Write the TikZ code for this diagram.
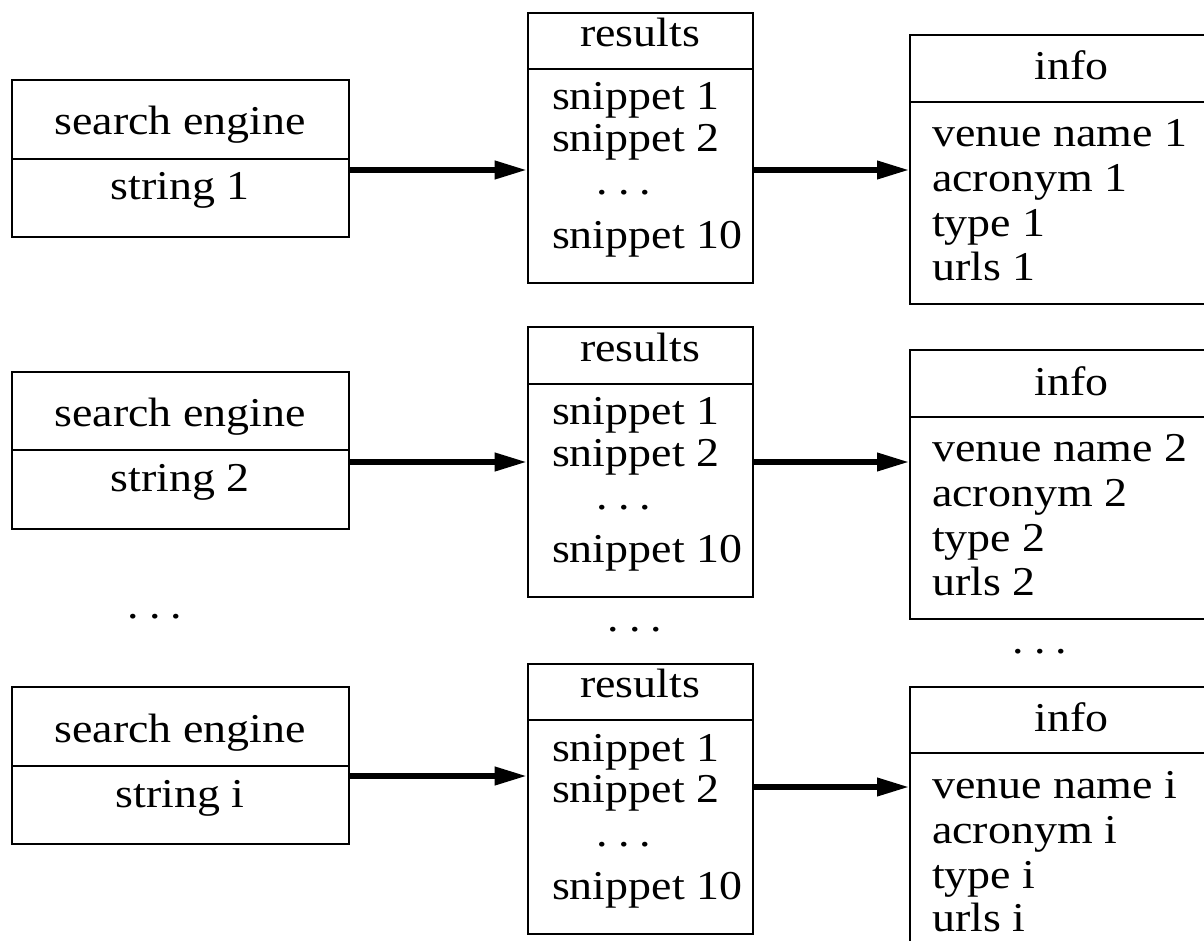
\documentclass[tikz,border=0pt]{standalone}
\usepackage{fontspec}
\setmainfont[FakeStretch=1.12]{Liberation Serif}
\usetikzlibrary{arrows.meta}
% widely spaced ellipsis
\newcommand\wdots{.\kern0.25em.\kern0.25em.}

\begin{document}
\begin{tikzpicture}[x=0.5pt,y=-0.5pt,
  box/.style={draw, line width=1pt, inner sep=0pt, outer sep=0pt, anchor=north west},
  rule/.style={line width=1pt},
  flow/.style={line width=3.3pt, -{Triangle[length=16.5pt,width=8.5pt]}},
  lbl/.style={inner sep=0pt, anchor=base, font=\fontsize{20.5}{20.5}\selectfont},
  item/.style={lbl, anchor=base west}]

\fill[white] (0,0) rectangle (1204,941);
\clip (0,0) rectangle (1204,941);

% one row per query: search engine -> results -> info
% \n: row, \s/\r/\i: vertical offsets of the three boxes, \ya/\yb: arrow heights
\foreach \n/\s/\r/\i/\ya/\yb/\lab in
  {1/0/0/0/170/170/1,
   2/291.7/314.3/315/462/462/2,
   3/607/651/651.7/776/787/i} {
  % search engine box
  \node[box, minimum width=337.5*0.5pt, minimum height=157.3*0.5pt]
    (se\n) at (11.5,{80+\s}) {};
  \draw[rule] (se\n.west |- 0,{158.7+\s}) -- (se\n.east |- 0,{158.7+\s});
  \node[lbl] (set\n) at (180.2,{135+\s}) {search engine};
  \node[lbl] (ses\n) at (180.2,{200+\s}) {string \lab};

  % results box
  \node[box, minimum width=224.8*0.5pt, minimum height=270*0.5pt]
    (res\n) at (527.7,{12.7+\r}) {};
  \draw[rule] (res\n.west |- 0,{69.3+\r}) -- (res\n.east |- 0,{69.3+\r});
  \node[lbl] (rest\n) at (640,{46.7+\r}) {results};
  \node[item] (resa\n) at (551.7,{110+\r}) {snippet 1};
  \node[item] (resb\n) at (551.7,{151.7+\r}) {snippet 2};
  \node[item] (resc\n) at (596,{195+\r}) {\wdots};
  \node[item] (resd\n) at (551.7,{248.3+\r}) {snippet 10};

  % info box
  \node[box, minimum width=320*0.5pt, minimum height=269*0.5pt]
    (info\n) at (910,{35+\i}) {};
  \draw[rule] (info\n.west |- 0,{101.7+\i}) -- (info\n.east |- 0,{101.7+\i});
  \node[lbl] (infot\n) at (1071.7,{80+\i}) {info};
  \node[item] (infoa\n) at (931.7,{146.7+\i}) {venue name \lab};
  \node[item] (infob\n) at (931.7,{191.7+\i}) {acronym \lab};
  \node[item] (infoc\n) at (931.7,{236.7+\i}) {type \lab};
  \node[item] (infod\n) at (931.7,{280+\i}) {urls \lab};

  % connectors
  \draw[flow] (se\n.east |- 0,\ya) -- (res\n.west |- 0,\ya);
  \draw[flow] (res\n.east |- 0,\yb) -- (info\n.west |- 0,\yb);
}

% elision marks between the second and last rows
\node[lbl] (dse) at (155,618) {\wdots};
\node[lbl] (dres) at (635,631) {\wdots};
\node[lbl] (dinfo) at (1040,653) {\wdots};
\end{tikzpicture}
\end{document}
